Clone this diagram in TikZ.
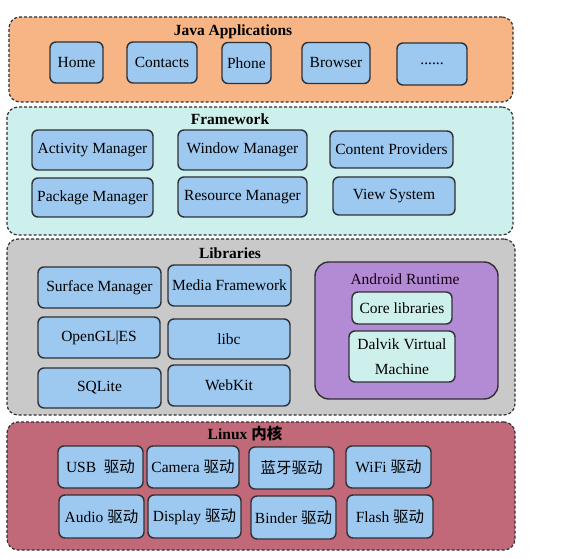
\documentclass[tikz,border=0pt]{standalone}
\usepackage{fontspec}
\setmainfont{Liberation Serif}
\newfontfamily\cjk{Noto Sans CJK SC}
\usepackage{tikz}
\usetikzlibrary{positioning}
\definecolor{javabg}{RGB}{247,181,133}
\definecolor{frambg}{RGB}{206,240,236}
\definecolor{libsbg}{RGB}{201,201,201}
\definecolor{linuxbg}{RGB}{194,105,121}
\definecolor{rtbg}{RGB}{179,138,212}
\definecolor{unitbg}{RGB}{157,200,240}
\definecolor{edge}{RGB}{48,48,52}

\begin{document}
\begin{tikzpicture}[
	x=1pt,
	y=-1pt,
	font=\fontsize{15.5}{18}\selectfont,
	align=center,
	panel/.style={
		draw=edge,
		dashed,
		dash pattern=on 3pt off 2pt,
		line width=1.2pt,
		rounded corners=11pt,
		inner sep=0pt
	},
	unit/.style={
		draw=edge,
		fill=unitbg,
		line width=1.4pt,
		rounded corners=6pt,
		inner sep=1pt,
		minimum height=41pt
	},
	title/.style={
		font=\fontsize{15.5}{18}\selectfont\bfseries,
		inner sep=0pt
	}]

	\useasboundingbox[fill=white] (0,0) rectangle (563,559);

	\node[panel, fill=javabg, minimum width=504pt, minimum height=85pt] (java) at (261,59.5) {};
	\node[panel, fill=frambg, minimum width=506pt, minimum height=128pt] (fw) at (260,171) {};
	\node[panel, fill=libsbg, minimum width=508pt, minimum height=176pt] (libs) at (261,327) {};
	\node[panel, fill=linuxbg, minimum width=508pt, minimum height=128pt] (linux) at (261,486) {};

	\node[title] (java_t) at (233,32) {Java Applications};
	\node[unit, minimum width=53pt] (home) at (76.5,62.5) {Home};
	\node[unit, minimum width=70pt] (contacts) at (162,62.5) {Contacts};
	\node[unit, minimum width=49pt] (phone) at (246.5,63) {Phone};
	\node[unit, minimum width=68pt] (browser) at (336,63) {Browser};
	\node[unit, minimum width=70pt, minimum height=42pt] (more) at (432,64) {......};

	\node[title] (fw_t) at (230,119) {Framework};
	\node[unit, minimum width=121pt, minimum height=40pt] (am) at (92.5,150) {Activity Manager};
	\node[unit, minimum width=129pt, minimum height=40pt] (wm) at (242.5,150) {Window Manager};
	\node[unit, minimum width=123pt, minimum height=37pt] (cp) at (391.5,149.5) {Content Providers};
	\node[unit, minimum width=121pt, minimum height=39pt] (pm) at (92.5,197.5) {Package Manager};
	\node[unit, minimum width=129pt, minimum height=40pt] (rm) at (242.5,197) {Resource Manager};
	\node[unit, minimum width=122pt, minimum height=38pt] (vs) at (394,196) {View System};

	\node[title] (libs_t) at (230,253) {Libraries};
	\node[unit, minimum width=123pt] (sm) at (99.5,287.5) {Surface Manager};
	\node[unit, minimum width=123pt] (mf) at (229.5,285.5) {Media Framework};
	\node[unit, minimum width=122pt] (gl) at (99,337.5) {OpenGL|ES};
	\node[unit, minimum width=122pt, minimum height=40pt] (libc) at (229,339) {libc};
	\node[unit, minimum width=123pt, minimum height=40pt] (sql) at (99.5,388) {SQLite};
	\node[unit, minimum width=122pt] (webkit) at (229,385.5) {WebKit};

	\node[panel, solid, fill=rtbg, line width=1.4pt, rounded corners=14pt, minimum width=183pt, minimum height=137pt] (rt) at (406.5,330.5) {};
	\node[inner sep=0pt, text=black!85!violet] (rt_t) at (405,279) {Android Runtime};
	\node[unit, fill=frambg, minimum width=100pt, minimum height=32pt] (core) at (402,308) {Core libraries};
	\node[unit, fill=frambg, minimum width=106pt, minimum height=51pt, font=\fontsize{15.5}{25}\selectfont] (dalvik) at (402,356.5) {Dalvik Virtual\\Machine};

	\node[title] (linux_t) at (245,434) {Linux {\cjk 内核}};
	\node[unit, minimum width=85pt, minimum height=42pt] (usb) at (100.5,467) {USB\ \ {\cjk 驱动}};
	\node[unit, minimum width=92pt, minimum height=42pt] (camera) at (193,467) {Camera {\cjk 驱动}};
	\node[unit, minimum width=85pt, minimum height=42pt] (bt) at (291.5,468) {{\cjk 蓝牙驱动}};
	\node[unit, minimum width=85pt, minimum height=42pt] (wifi) at (388.5,467) {WiFi {\cjk 驱动}};
	\node[unit, minimum width=85pt, minimum height=43pt] (audio) at (101.5,516.5) {Audio {\cjk 驱动}};
	\node[unit, minimum width=93pt, minimum height=43pt] (display) at (194.5,516.5) {Display {\cjk 驱动}};
	\node[unit, minimum width=85pt, minimum height=43pt] (binder) at (293.5,517.5) {Binder {\cjk 驱动}};
	\node[unit, minimum width=86pt, minimum height=43pt] (flash) at (390,516.5) {Flash {\cjk 驱动}};
\end{tikzpicture}
\end{document}
